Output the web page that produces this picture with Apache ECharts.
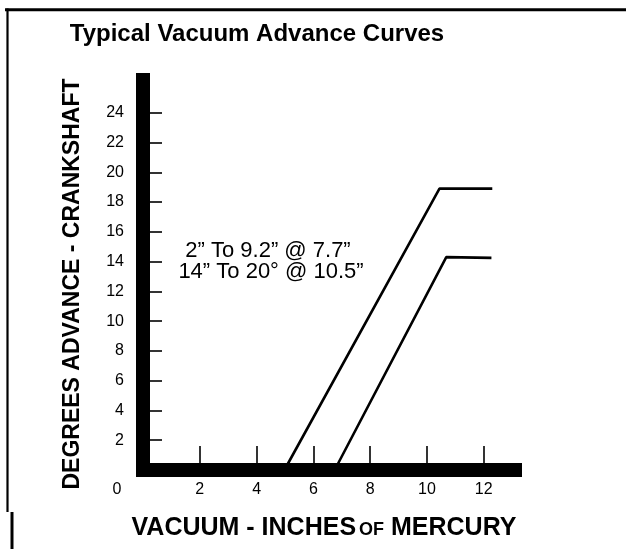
<!DOCTYPE html>
<html>
<head>
<meta charset="utf-8">
<script src="https://cdn.jsdelivr.net/npm/echarts@6/dist/echarts.min.js"></script>
<style>
  html, body { margin: 0; padding: 0; background: #fff; }
  #chart { width: 626px; height: 549px; }
</style>
</head>
<body>
<div id="chart"></div>
<script>
// Vacuum (in. Hg) vs. crankshaft advance (degrees) for two advance units
const curveA = [[4.98, 0], [10.44, 18.9], [12.3, 18.9]];
const curveB = [[6.75, 0], [10.68, 14.3], [12.27, 14.25]];

const xTicks = [2, 4, 6, 8, 10, 12];
const xLabels = [0, 2, 4, 6, 8, 10, 12];
const yTicks = [2, 4, 6, 8, 10, 12, 14, 16, 18, 20, 22, 24];

const titleText = 'Typical Vacuum Advance Curves';
const xTitleParts = ['VACUUM - INCHES', 'OF', ' MERCURY'];
const yTitle = 'DEGREES ADVANCE - CRANKSHAFT';
const noteLines = ['2\u201D To 9.2\u201D @ 7.7\u201D', '14\u201D To 20\u00B0 @ 10.5\u201D'];

const FONT = '"Liberation Sans", Arial, Helvetica, sans-serif';
const chart = echarts.init(document.getElementById('chart'), null, { renderer: 'canvas' });

const heavyAxis = { show: true, onZero: false, lineStyle: { color: '#000', width: 14, cap: 'square' } };

chart.setOption({
  animation: false,
  backgroundColor: '#fff',
  grid: { left: 143, right: 111, top: 80, bottom: 79, containLabel: false },
  xAxis: {
    type: 'value', min: 0, max: 13.1,
    axisLine: heavyAxis,
    splitLine: { show: false },
    axisTick: { show: true, inside: true, length: 24, customValues: xTicks,
      lineStyle: { color: '#000', width: 1.6 } },
    axisLabel: {
      customValues: xLabels, margin: 12, color: '#000', fontSize: 16, fontFamily: FONT,
      formatter: v => (v === 0 ? '{z|0}' : String(v)),
      rich: { z: { fontSize: 16, fontFamily: FONT, color: '#000', padding: [0, 52, 0, 0] } }
    }
  },
  yAxis: {
    type: 'value', min: 0, max: 26.2,
    axisLine: heavyAxis,
    splitLine: { show: false },
    axisTick: { show: true, inside: true, length: 19, customValues: yTicks,
      lineStyle: { color: '#000', width: 1.6 } },
    axisLabel: { customValues: yTicks, margin: 19, color: '#000', fontSize: 16, fontFamily: FONT }
  },
  series: [
    { type: 'line', data: curveA, showSymbol: false, z: 1,
      lineStyle: { color: '#000', width: 2.6 } },
    { type: 'line', data: curveB, showSymbol: false, z: 1,
      lineStyle: { color: '#000', width: 2.6 } }
  ],
  graphic: [
    // frame
    { type: 'line', shape: { x1: 5, y1: 9.7, x2: 626, y2: 9.7 }, style: { stroke: '#000', lineWidth: 3 } },
    { type: 'line', shape: { x1: 7.5, y1: 8.5, x2: 7.5, y2: 512 }, style: { stroke: '#000', lineWidth: 2.2 } },
    { type: 'line', shape: { x1: 12, y1: 512, x2: 12, y2: 549 }, style: { stroke: '#000', lineWidth: 3 } },
    // headings
    { type: 'text', x: 257, y: 34, style: { text: titleText, fill: '#000',
        font: 'bold 24px ' + FONT, textAlign: 'center', textVerticalAlign: 'middle' } },
    { type: 'text', x: 324, y: 527, style: {
        text: '{m|' + xTitleParts[0] + '}{s|' + xTitleParts[1] + '}{m|' + xTitleParts[2] + '}',
        fill: '#000', textAlign: 'center', textVerticalAlign: 'middle',
        rich: {
          m: { font: 'bold 25px ' + FONT, fill: '#000', verticalAlign: 'bottom', lineHeight: 28 },
          s: { font: 'bold 18px ' + FONT, fill: '#000', verticalAlign: 'bottom', lineHeight: 26, padding: [0, 0, 2, 3] }
        } } },
    { type: 'text', x: 73, y: 284, rotation: Math.PI / 2, style: { text: yTitle, fill: '#000',
        font: 'bold 23px ' + FONT, textAlign: 'center', textVerticalAlign: 'middle' } },
    // spec note
    { type: 'text', x: 268, y: 251, style: { text: noteLines[0], fill: '#000',
        font: '22px ' + FONT, textAlign: 'center', textVerticalAlign: 'middle' } },
    { type: 'text', x: 271, y: 272, style: { text: noteLines[1], fill: '#000',
        font: '22px ' + FONT, textAlign: 'center', textVerticalAlign: 'middle' } }
  ]
});
</script>
</body>
</html>
